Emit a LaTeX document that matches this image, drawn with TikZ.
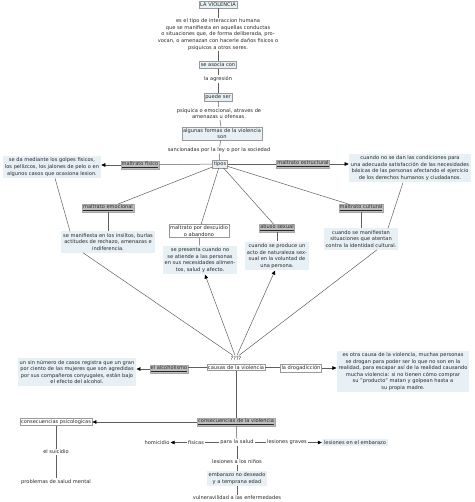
\documentclass[tikz,border=0pt]{standalone}
\usepackage{fontspec}
\setmainfont{DejaVu Sans}
\usetikzlibrary{arrows.meta}
\definecolor{lb}{RGB}{230,240,245}
\definecolor{ln}{RGB}{95,95,95}
\definecolor{tx}{RGB}{40,40,40}
\definecolor{gl}{RGB}{190,190,190}
\begin{document}
\begin{tikzpicture}[x=1pt,y=-1pt,
  every node/.style={font=\fontsize{5.1}{6.6}\selectfont, text=tx, inner sep=1pt, align=center},
  concept/.style={draw=gray!80, fill=lb, inner sep=1.4pt},
  info/.style={fill=lb, inner sep=2pt},
  wbox/.style={draw=gray!80, fill=white, inner sep=1.2pt},
  glab/.style={fill=gl, draw=gray!70, inner sep=0.8pt},
  plain/.style={fill=white, inner sep=1pt},
  con/.style={draw=ln, line width=0.5pt},
  arr/.style={con, -{Triangle[length=4pt,width=3.6pt,color=black]}}
]
\useasboundingbox (0,0) rectangle (474,502);

% main column
\node[concept] (vio) at (218,4.5) {LA VIOLENCIA};
\node (def) at (218,34.5) {es el tipo de interaccion humana\\que se manifiesta en aquellas conductas\\o situaciones que, de forma deliberada, pro-\\vocan, o amenazan con hacerle daños fisicos o\\psiquicos a otros seres.};
\node[concept] (aso) at (218,65) {se asocia con};
\node (agr) at (218,79) {la agresión};
\node[concept] (pue) at (218,97) {puede ser};
\node (psi) at (219,113.5) {psiquica o emocional, atraves de\\amenazas u ofensas.};
\node[concept] (for) at (222,133.5) {algunas formas de la violencia\\son};
\node (san) at (219,150) {sancionadas por la ley o por la sociedad};
\node[concept] (tip) at (220,164) {tipos};

% types
\node[glab] (mfi) at (140,165) {\underline{maltrato fisico}};
\node[info] (gol) at (52,167) {se da mediante los golpes fisicos,\\los pellizcos, los jalones de pelo o en\\algunos casos que ocasiona lesion.};
\node[glab] (mes) at (303,164) {\underline{maltrato estructural}};
\node[info] (cno) at (410,168) {cuando no se dan las condiciones para\\una adecuada satisfacción de las necesidades\\básicas de las personas afectando el ejercicio\\de los derechos humanos y ciudadanos.};
\node[glab] (mem) at (108,208) {\underline{maltrato emocional}};
\node[info] (man) at (108,242) {se manifiesta en los insiltos, burlas\\actitudes de rechazo, amenazas e\\indiferencia.};
\node[wbox] (mde) at (199,231) {maltrato por descuidio\\o abandono};
\node[info] (pre) at (200,260) {se presenta cuando no\\se atiende a las personas\\en sus necesidades alimen-\\tos, salud y afecto.};
\node[glab] (abu) at (277,228) {\underline{abuso sexual}};
\node[info] (pro) at (277,256) {cuando se produce un\\acto de naturaleza sex-\\sual en la voluntad de\\una persona.};
\node[glab] (mcu) at (361,208) {\underline{maltrato cultural}};
\node[info] (cma) at (361,239) {cuando se manifiestan\\situaciones que atentan\\contra la identidad cultural.};

% causes
\node (qqq) at (236,358.5) {????};
\node[wbox] (cau) at (236,367.5) {causas de la violencia};
\node[glab] (alc) at (169,369) {\underline{el alcoholismo}};
\node[info] (sin) at (77,372) {un sin número de casos registra que un gran\\por ciento de las mujeres que son agredidas\\por sus compañeros conyugales, están bajo\\el efecto del alcohol.};
\node[wbox] (dro) at (301,368) {la drogadicción};
\node[info] (otr) at (403,371.5) {es otra causa de la violencia, muchas personas\\se drogan para poder ser lo que no son en la\\realidad, para escapar así de la realidad causando\\mucha violencia: si no tienen cómo comprar\\su ''producto'' matan y golpean hasta a\\su propia madre.};

% consequences
\node[glab] (con) at (236,422) {\underline{consecuencias de la violencia}};
\node[wbox] (psc) at (56,422) {consecuencias psicologicas};
\node[plain] (sui) at (56,452) {el suicidio};
\node (pmen) at (56,482) {problemas de salud mental};
\node (sal) at (237,442.5) {para la salud};
\node[plain] (fis) at (196,442.5) {fisicas};
\node (hom) at (157,442.5) {homicidio};
\node[plain] (lgr) at (287,442.5) {lesiones graves};
\node[info] (lem) at (355,442.5) {lesiones en el embarazo};
\node[plain] (nin) at (237,462) {lesiones a los niños};
\node[info] (emb) at (237,478.5) {embarazo no deseado\\y a temprana edad};
\node (vul) at (237,498) {vulneravilidad a las enfermedades};

% connectors
\draw[con] (vio) -- (def);
\draw[con] (def) -- (aso);
\draw[con] (aso) -- (agr);
\draw[con] (agr) -- (pue);
\draw[con] (pue) -- (psi);
\draw[con] (psi) -- (for);
\draw[con] (for) -- (san);
\draw[con] (san) -- (tip);

\draw[con] (tip) -- (mfi);
\draw[arr] (mfi.west) -- (mfi.west -| gol.east);
\draw[con] (tip) -- (mes);
\draw[arr] (mes.east) -- (mes.east -| cno.west);
\draw[con] (tip) -- (mem);
\draw[con] (mem) -- (man);
\draw[con] (tip) -- (mde);
\draw[con] (mde) -- (pre);
\draw[con] (tip) -- (abu);
\draw[con] (abu) -- (pro);
\draw[con] (tip) -- (mcu);
\draw[con] (mcu) -- (cma);
\draw[con] ([xshift=3pt]gol.south) -- ([xshift=-38pt]man.north);
\draw[con] ([xshift=-7pt]cno.south) -- ([xshift=27pt]cma.north);

\draw[con] ([xshift=-3pt]qqq.north) -- ([xshift=-25pt]man.south);
\draw[arr] ([xshift=-1pt]qqq.north) -- ([xshift=5pt]pre.south);
\draw[arr] ([xshift=1pt]qqq.north) -- ([xshift=-2pt]pro.south);
\draw[con] ([xshift=3pt]qqq.north) -- ([xshift=16pt]cma.south);

\draw[con] (cau.west) -- (cau.west -| alc.east);
\draw[arr] (alc.west) -- (alc.west -| sin.east);
\draw[con] (cau.east) -- (cau.east -| dro.west);
\draw[arr] (dro.east) -- (dro.east -| otr.west);
\draw[con] (cau) -- (con);
\draw[arr] (con.west) -- (con.west -| psc.east);
\draw[con] (psc) -- (sui);
\draw[con] (sui) -- (pmen);
\draw[con] (con) -- (sal);
\draw[con] (sal) -- (fis);
\draw[arr] (fis) -- (hom);
\draw[con] (sal) -- (lgr);
\draw[arr] (lgr) -- (lem);
\draw[con] (sal) -- (nin);
\draw[con] (nin) -- (emb);
\draw[con] (emb) -- (vul);
\end{tikzpicture}
\end{document}
